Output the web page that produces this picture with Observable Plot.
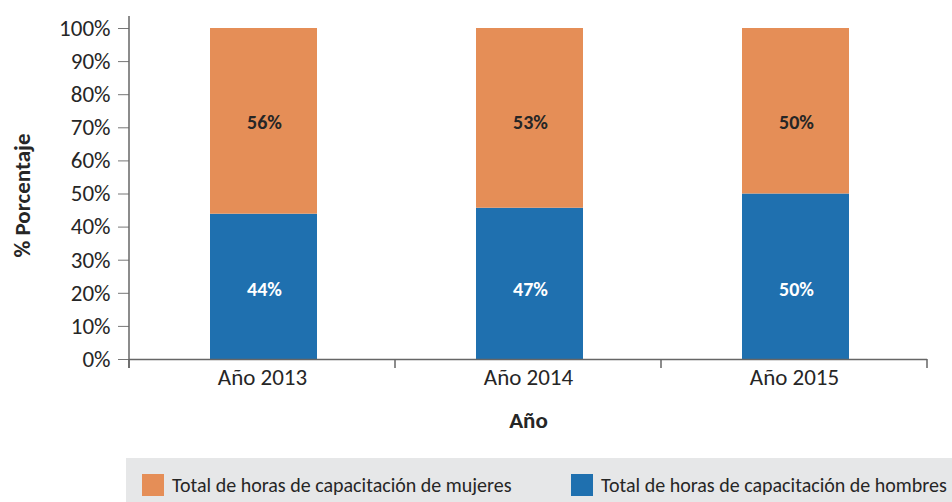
<!DOCTYPE html>
<html>
<head>
<meta charset="utf-8">
<script src="https://cdn.jsdelivr.net/npm/d3@7"></script>
<script src="https://cdn.jsdelivr.net/npm/@observablehq/plot@0.6"></script>
<style>
  html, body { margin: 0; padding: 0; background: #fff; }
  body { width: 952px; height: 502px; overflow: hidden; font-family: Carlito, Calibri, Lato, sans-serif; color: #262626; }
  #legend { margin-left: 126px; width: 826px; height: 44px; background: #E6E7E8; position: relative; font-size: 20px; }
  .item { position: absolute; top: 16px; display: flex; align-items: center; height: 22px; }
  .sw { width: 22px; height: 22px; margin-right: 8px; }
</style>
</head>
<body>
<div id="chart"></div>
<div id="legend"></div>
<script>
// ---- data ----
const anios = ["Año 2013", "Año 2014", "Año 2015"];
const hombres = [43.9, 45.7, 50.0];
const mujeres = [56.1, 54.3, 50.0];
const etiquetasHombres = ["44%", "47%", "50%"];
const etiquetasMujeres = ["56%", "53%", "50%"];
const series = ["Total de horas de capacitación de hombres", "Total de horas de capacitación de mujeres"];
const colores = ["#1F70AF", "#E58E57"];
const yTicks = [0, 10, 20, 30, 40, 50, 60, 70, 80, 90, 100];
const yTitulo = "% Porcentaje";
const xTitulo = "Año";
const legendOrder = [1, 0];
// label rows (in % units) where the reference prints the values
const yEtiquetaHombres = 21.1;
const yEtiquetaMujeres = 71.7;

// ---- table ----
const rows = [];
anios.forEach((a, i) => {
  rows.push({anio: a, serie: series[0], valor: hombres[i], etiqueta: etiquetasHombres[i]});
  rows.push({anio: a, serie: series[1], valor: mujeres[i], etiqueta: etiquetasMujeres[i]});
});
const filasH = rows.filter(d => d.serie === series[0]);
const filasM = rows.filter(d => d.serie === series[1]);

const FONT = "Carlito, Calibri, Lato, sans-serif";
const chart = Plot.plot({
  width: 952,
  height: 458,
  marginLeft: 129,
  marginRight: 25,
  marginTop: 28,
  marginBottom: 99,
  style: {fontFamily: FONT, fontSize: "23px", color: "#262626", background: "#fff", overflow: "visible"},
  x: {domain: anios, padding: 0, label: null},
  y: {domain: [0, 100], label: null},
  color: {domain: series, range: colores},
  marks: [
    Plot.barY(rows, {x: "anio", y: "valor", fill: "serie", z: "serie", order: series, insetLeft: 81, insetRight: 78}),
    Plot.text(filasH, {x: "anio", y: () => yEtiquetaHombres, text: "etiqueta", fill: "#fff", fontWeight: "bold", fontSize: 20, dx: 2}),
    Plot.text(filasM, {x: "anio", y: () => yEtiquetaMujeres, text: "etiqueta", fill: "#262626", fontWeight: "bold", fontSize: 20, dx: 2}),
    Plot.axisY({ticks: yTicks, tickFormat: d => d + "%", tickSize: 11, tickPadding: 8, stroke: "#777", fontSize: 23, fill: "#262626"}),
    Plot.axisX({tickSize: 0, tickPadding: 9, fontSize: 23, fill: "#262626", label: null}),
    Plot.ruleY([0], {stroke: "#666", strokeWidth: 1.5}),
    Plot.text([yTitulo], {frameAnchor: "left", rotate: -90, dx: -107, dy: 1.5, fontWeight: "bold", fontSize: 23, fill: "#262626", textAnchor: "middle", lineAnchor: "middle"}),
    Plot.text([xTitulo], {frameAnchor: "bottom", dy: 61, fontWeight: "bold", fontSize: 23, fill: "#262626", textAnchor: "middle", lineAnchor: "middle"})
  ]
});
document.getElementById("chart").appendChild(chart);

// boundary ticks and vertical axis line, from the plot's own scales
const xs = chart.scale("x"), ys = chart.scale("y");
const svg = d3.select(chart);
const y0 = ys.apply(0), y100 = ys.apply(100);
const bounds = anios.map(a => xs.apply(a)).concat([xs.apply(anios[anios.length - 1]) + xs.bandwidth]);
svg.append("g").selectAll("line").data(bounds).join("line")
  .attr("x1", d => d).attr("x2", d => d).attr("y1", y0).attr("y2", y0 + 9)
  .attr("stroke", "#666").attr("stroke-width", 1.5);
svg.append("line").attr("x1", bounds[0]).attr("x2", bounds[0]).attr("y1", y100 - 12).attr("y2", y0 + 9)
  .attr("stroke", "#666").attr("stroke-width", 1.5);

// legend
const leg = d3.select("#legend");
const pos = [16, 445];
legendOrder.forEach((k, j) => {
  const it = leg.append("div").attr("class", "item").style("left", pos[j] + "px");
  it.append("div").attr("class", "sw").style("background", colores[k]);
  it.append("span").text(series[k]);
});
</script>
</body>
</html>
